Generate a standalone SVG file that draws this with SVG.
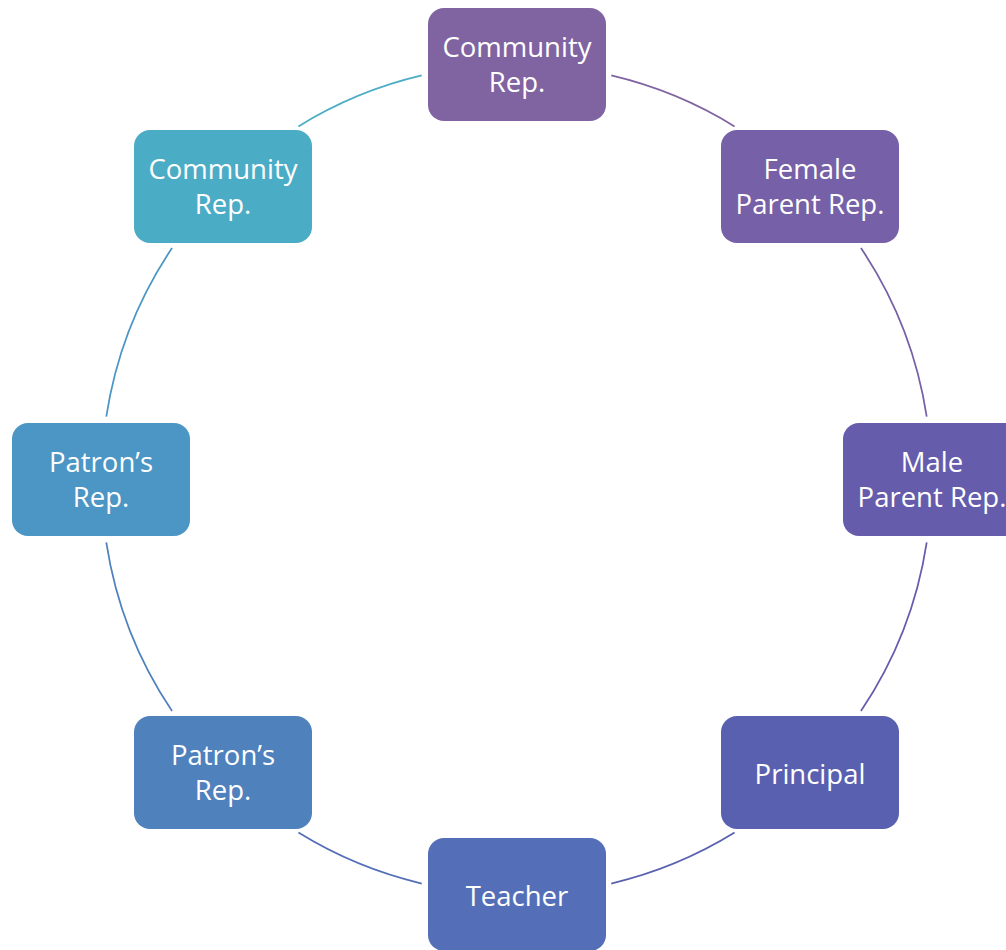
<svg xmlns="http://www.w3.org/2000/svg" width="1006" height="950" viewBox="0 0 1006 950">
<style>
.box{stroke:none}
.lbl{font-family:"Open Sans","Noto Sans",sans-serif;font-size:27.5px;fill:#FFFFFF;text-anchor:middle}
.arc{fill:none;stroke-width:1.75}
</style>
<rect width="1006" height="950" fill="#FFFFFF"/>
<g id="connectors">
<path class="arc" stroke="#8064A2" d="M611.27,75.46 A415,415 0 0 1 734.57,126.41"/>
<path class="arc" stroke="#7660A7" d="M860.95,248.03 A415,415 0 0 1 926.72,416.73"/>
<path class="arc" stroke="#665CAC" d="M926.72,542.27 A415,415 0 0 1 860.95,710.97"/>
<path class="arc" stroke="#5A60B0" d="M734.57,832.59 A415,415 0 0 1 611.27,883.54"/>
<path class="arc" stroke="#546FB8" d="M421.73,883.54 A415,415 0 0 1 298.43,832.59"/>
<path class="arc" stroke="#4F81BD" d="M172.05,710.97 A415,415 0 0 1 106.28,542.27"/>
<path class="arc" stroke="#4B96C4" d="M106.28,416.73 A415,415 0 0 1 172.05,248.03"/>
<path class="arc" stroke="#4BACC6" d="M298.43,126.41 A415,415 0 0 1 421.73,75.46"/>
</g>
<g id="node-top-community">
<rect class="box" x="428" y="8" width="178" height="113" rx="16" fill="#8064A2"/>
<text class="lbl" x="517" y="56.5">Community</text>
<text class="lbl" x="517" y="92">Rep.</text>
</g>
<g id="node-female-parent">
<rect class="box" x="721" y="130" width="178" height="113" rx="16" fill="#7660A7"/>
<text class="lbl" x="810" y="178.5">Female</text>
<text class="lbl" x="810" y="214">Parent Rep.</text>
</g>
<g id="node-male-parent">
<rect class="box" x="843" y="423" width="178" height="113" rx="16" fill="#665CAC"/>
<text class="lbl" x="932" y="471.5">Male</text>
<text class="lbl" x="932" y="507">Parent Rep.</text>
</g>
<g id="node-principal">
<rect class="box" x="721" y="716" width="178" height="113" rx="16" fill="#5A60B0"/>
<text class="lbl" x="810" y="783.5">Principal</text>
</g>
<g id="node-teacher">
<rect class="box" x="428" y="838" width="178" height="113" rx="16" fill="#546FB8"/>
<text class="lbl" x="517" y="905.5">Teacher</text>
</g>
<g id="node-patron-bottom">
<rect class="box" x="134" y="716" width="178" height="113" rx="16" fill="#4F81BD"/>
<text class="lbl" x="223" y="764.5">Patron’s</text>
<text class="lbl" x="223" y="800">Rep.</text>
</g>
<g id="node-patron-left">
<rect class="box" x="12" y="423" width="178" height="113" rx="16" fill="#4B96C4"/>
<text class="lbl" x="101" y="471.5">Patron’s</text>
<text class="lbl" x="101" y="507">Rep.</text>
</g>
<g id="node-community-left">
<rect class="box" x="134" y="130" width="178" height="113" rx="16" fill="#4BACC6"/>
<text class="lbl" x="223" y="178.5">Community</text>
<text class="lbl" x="223" y="214">Rep.</text>
</g>
</svg>
